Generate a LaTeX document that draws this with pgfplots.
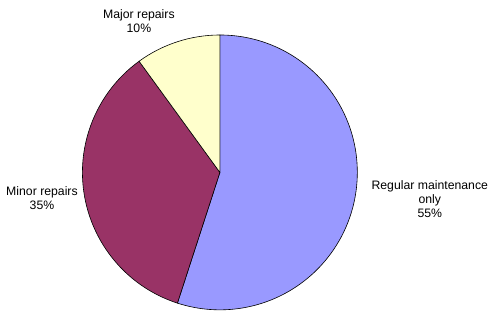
\documentclass[border=0pt]{standalone}
\usepackage{pgfplots}
\usepackage{pgfplotstable}
\pgfplotsset{compat=1.18}
\usepackage{fontspec}
\setmainfont{Liberation Sans}
\definecolor{cReg}{HTML}{9999FF}
\definecolor{cMin}{HTML}{993366}
\definecolor{cMaj}{HTML}{FFFFCC}
\pgfplotstableread[col sep=comma]{
label,value
Regular maintenance only,55
Minor repairs,35
Major repairs,10
}\pietable
\begin{document}
\begin{tikzpicture}
\pgfplotstablegetelem{0}{value}\of\pietable \let\vA\pgfplotsretval
\pgfplotstablegetelem{1}{value}\of\pietable \let\vB\pgfplotsretval
\pgfplotstablegetelem{2}{value}\of\pietable \let\vC\pgfplotsretval
\pgfmathsetmacro\aA{90}
\pgfmathsetmacro\aB{\aA-3.6*\vA}
\pgfmathsetmacro\aC{\aB-3.6*\vB}
\pgfmathsetmacro\aD{\aC-3.6*\vC}
\def\R{137.5}
\begin{axis}[x=1bp,y=1bp,xmin=0,xmax=488,ymin=0,ymax=311,hide axis,clip=false,
  anchor=origin,at={(0,0)}]
\path (axis cs:0,0) rectangle (axis cs:488,311);
\filldraw[fill=cReg,draw=black,line width=0.6bp] (axis cs:220,138.5) -- ++(\aA:\R bp) arc[start angle=\aA,end angle=\aB,radius=\R bp] -- cycle;
\filldraw[fill=cMin,draw=black,line width=0.6bp] (axis cs:220,138.5) -- ++(\aB:\R bp) arc[start angle=\aB,end angle=\aC,radius=\R bp] -- cycle;
\filldraw[fill=cMaj,draw=black,line width=0.6bp] (axis cs:220,138.5) -- ++(\aC:\R bp) arc[start angle=\aC,end angle=\aD,radius=\R bp] -- cycle;
\node[align=center,inner sep=0pt,font=\fontsize{12.3}{14}\selectfont] at (axis cs:139,289.5) {Major repairs\\\vC\%};
\node[align=center,inner sep=0pt,font=\fontsize{12.3}{14}\selectfont] at (axis cs:42,112.5) {Minor repairs\\\vB\%};
\node[align=center,inner sep=0pt,font=\fontsize{12.3}{14}\selectfont] at (axis cs:430,112) {Regular maintenance\\only\\\vA\%};
\end{axis}
\end{tikzpicture}
\end{document}
